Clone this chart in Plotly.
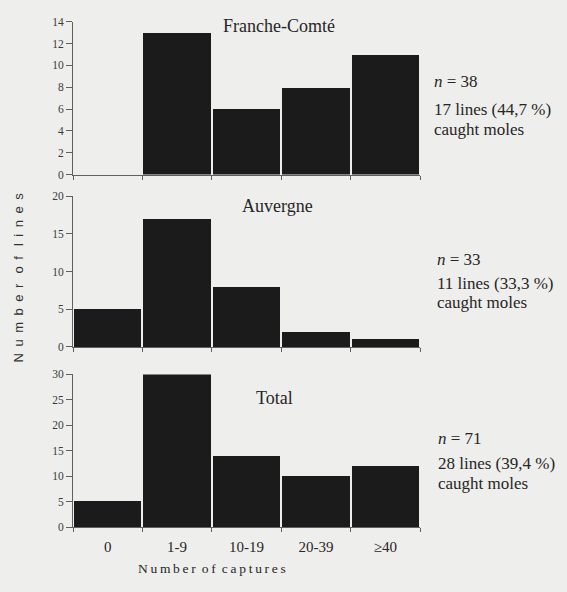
import plotly.graph_objects as go

# ---- data ----
categories = ["0", "1-9", "10-19", "20-39", "\u226540"]
franche_comte = [0, 13, 6, 8, 11]
auvergne = [5, 17, 8, 2, 1]
total = [5, 30, 14, 10, 12]
panel_titles = ["Franche-Comt\u00e9", "Auvergne", "Total"]
n_values = [38, 33, 71]
caught_lines = [17, 11, 28]
caught_pct = ["44,7", "33,3", "39,4"]
y_max = [14, 20, 30]
y_step = [2, 5, 5]

W, H = 567, 592
BG = "#eeeeec"
BAR = "#1b1b1b"
AX = "#606060"
TXT = "#262626"
SERIF = "Liberation Serif, Times New Roman, serif"
SANS = "Liberation Sans, Arial, sans-serif"

def py(px):
    return 1 - px / H

x_dom = [73 / W, 420 / W]
# pixel (bottom, top) of each panel plot area
panel_px = [(172, 16), (348, 194), (532, 376)]
series = [franche_comte, auvergne, total]

fig = go.Figure()
xpos = list(range(len(categories)))

for i, (vals, (pb, pt)) in enumerate(zip(series, panel_px)):
    k = "" if i == 0 else str(i + 1)
    fig.add_trace(go.Bar(
        x=xpos, y=vals, width=0.97,
        marker=dict(color=BAR, line=dict(width=0)),
        xaxis="x" + k, yaxis="y" + k, showlegend=False, hoverinfo="skip",
    ))
    last = i == len(series) - 1
    fig.layout["xaxis" + k] = dict(
        domain=x_dom, anchor="y" + k, range=[-0.5, len(categories) - 0.5],
        showline=True, linecolor=AX, linewidth=1, showgrid=False, zeroline=False,
        tickmode="array", tickvals=xpos,
        ticktext=categories if last else [""] * len(categories),
        ticks="", showticklabels=last, ticklabelstandoff=6,
        tickfont=dict(family=SERIF, size=15, color=TXT),
        minor=dict(tickmode="linear", tick0=-0.5, dtick=1, ticks="outside",
                   ticklen=4, tickcolor=AX, tickwidth=1),
        fixedrange=True,
    )
    fig.layout["yaxis" + k] = dict(
        domain=[py(pb), py(pt)], anchor="x" + k, range=[0, y_max[i]],
        tickmode="linear", tick0=0, dtick=y_step[i],
        showline=True, linecolor=AX, linewidth=1, showgrid=False, zeroline=False,
        ticks="outside", ticklen=6, tickcolor=AX, tickwidth=1,
        tickfont=dict(family=SERIF, size=11.5, color="#3a3a3a"),
        fixedrange=True,
    )

annotations = []
title_px = [(279, 20), (277, 204), (274, 400)]
for t, (tx, ty) in zip(panel_titles, title_px):
    annotations.append(dict(text=t, xref="paper", yref="paper", x=tx / W, y=py(ty),
                            xanchor="center", yanchor="middle", showarrow=False,
                            font=dict(family=SERIF, size=18, color=TXT)))

def note(text, x, y):
    annotations.append(dict(text=text, xref="paper", yref="paper", x=x / W, y=py(y),
                            xanchor="left", yanchor="middle", showarrow=False, borderpad=0,
                            font=dict(family=SERIF, size=17, color=TXT)))

n_px = [(433, 77), (436, 259), (437, 441)]
line_px = [(106, 126), (283, 303), (467, 487)]
for n, cl, pc, (nx, ny), (l1, l2) in zip(n_values, caught_lines, caught_pct, n_px, line_px):
    note(f"<i>n</i> = {n}", nx, ny)
    note(f"{cl} lines ({pc} %)", nx, l1)
    note("caught moles", nx, l2)

def spaced(s, sep):
    return sep.join(s).replace(sep + " " + sep, " " + sep)

annotations.append(dict(text=spaced("Number of captures", "\u2009"), xref="paper", yref="paper",
                        x=212 / W, y=py(574), xanchor="center", yanchor="middle", showarrow=False,
                        borderpad=0, font=dict(family=SERIF, size=13.5, color=TXT)))
annotations.append(dict(text=spaced("Number of lines", "\u2002"), xref="paper", yref="paper",
                        x=18 / W, y=py(277), xanchor="center", yanchor="middle", showarrow=False,
                        textangle=-90, font=dict(family=SANS, size=13, color="#333")))

fig.update_layout(
    width=W, height=H, margin=dict(l=0, r=0, t=0, b=0),
    paper_bgcolor=BG, plot_bgcolor=BG, bargap=0,
    annotations=annotations, showlegend=False,
)

fig.write_html(
    "out.html",
    config={"displayModeBar": False, "responsive": False},
    post_script="document.body.style.margin='0';document.body.style.padding='0';"
                "document.body.style.background='" + BG + "';"
                "document.documentElement.style.overflow='hidden';",
)
